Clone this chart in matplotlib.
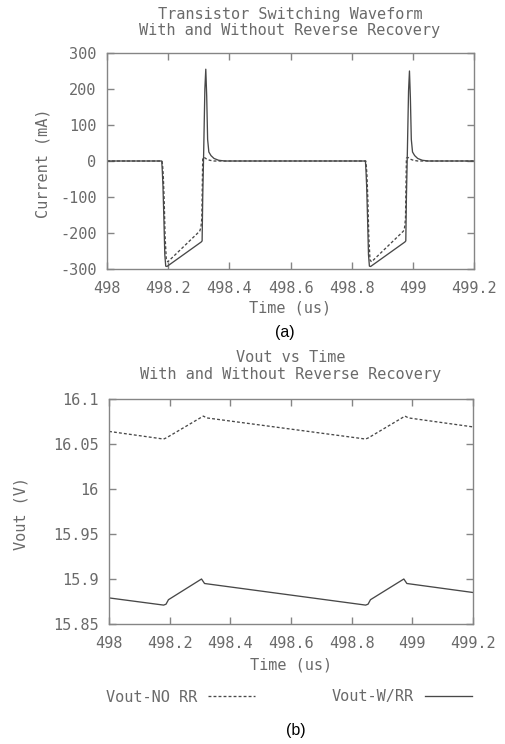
import matplotlib
matplotlib.use("Agg")
import matplotlib.pyplot as plt

plt.rcParams["axes.unicode_minus"] = False

# ---------------- data ----------------
# (a) transistor current, mA
t_cur_rr = [498.000, 498.179, 498.181, 498.183, 498.186, 498.189, 498.192, 498.196,
            498.308, 498.311, 498.313, 498.316, 498.320, 498.323, 498.326, 498.329,
            498.333, 498.340, 498.350, 498.365, 498.385,
            498.845, 498.847, 498.849, 498.852, 498.855, 498.858, 498.862,
            498.974, 498.977, 498.979, 498.982, 498.986, 498.989, 498.992, 498.995,
            498.999, 499.006, 499.016, 499.031, 499.051, 499.200]
i_rr = [0, 0, -30, -70, -160, -260, -292, -293,
        -225, -222, -100, 20, 200, 255, 180, 60,
        25, 15, 7, 2, 0,
        0, -30, -70, -160, -260, -292, -293,
        -225, -222, -100, 20, 195, 250, 175, 60,
        25, 15, 7, 2, 0, 0]

t_cur_norr = [498.000, 498.180, 498.182, 498.184, 498.187, 498.190, 498.194, 498.199,
              498.303, 498.307, 498.310, 498.313, 498.318, 498.326, 498.336, 498.350,
              498.846, 498.848, 498.850, 498.853, 498.856, 498.860, 498.865,
              498.969, 498.973, 498.976, 498.979, 498.984, 498.992, 499.002, 499.016,
              499.200]
i_norr = [0, 0, -15, -40, -110, -210, -275, -280,
          -195, -185, -160, 8, 10, 5, 2, 0,
          0, -15, -40, -110, -210, -275, -280,
          -195, -185, -160, 8, 10, 5, 2, 0,
          0]

# (b) output voltage, V
t_v_rr = [498.000, 498.180, 498.188, 498.196, 498.305, 498.315,
          498.846, 498.854, 498.862, 498.972, 498.982, 499.200]
v_rr = [15.879, 15.871, 15.872, 15.877, 15.900, 15.895,
        15.871, 15.872, 15.877, 15.900, 15.895, 15.885]

t_v_norr = [498.000, 498.180, 498.190, 498.311, 498.322,
            498.846, 498.856, 498.976, 498.987, 499.200]
v_norr = [16.064, 16.0555, 16.057, 16.081, 16.079,
          16.0555, 16.057, 16.081, 16.079, 16.069]

x_ticks = [498, 498.2, 498.4, 498.6, 498.8, 499, 499.2]
x_ticklabels = ["498", "498.2", "498.4", "498.6", "498.8", "499", "499.2"]
cur_ticks = [-300, -200, -100, 0, 100, 200, 300]
v_ticks = [15.85, 15.9, 15.95, 16.0, 16.05, 16.1]
v_ticklabels = ["15.85", "15.9", "15.95", "16", "16.05", "16.1"]

# ---------------- style ----------------
W, H = 505, 744
TXT = "#6a6a6a"
SPINE = "#858585"
LINE = "#484848"
MONO = "DejaVu Sans Mono"
FS = 11
DASH = (0, (2.2, 1.6))

fig = plt.figure(figsize=(W / 100, H / 100), dpi=100)


def fx(px):
    return px / W


def fy(py):
    return 1 - py / H


def style_axes(ax):
    for s in ax.spines.values():
        s.set_color(SPINE)
        s.set_linewidth(1.0)
    ax.tick_params(direction="in", length=5, width=1, color=SPINE,
                   labelcolor=TXT, labelsize=FS, top=True, right=True)
    ax.tick_params(axis="y", pad=7.5)
    ax.tick_params(axis="x", pad=8.5)
    for lab in ax.get_xticklabels() + ax.get_yticklabels():
        lab.set_family(MONO)


# ---- (a) ----
ax1 = fig.add_axes([fx(107), fy(269), fx(474) - fx(107), fy(53) - fy(269)])
ax1.plot(t_cur_norr, i_norr, color=LINE, lw=0.95, linestyle=DASH)
ax1.plot(t_cur_rr, i_rr, color=LINE, lw=0.95)
ax1.set_xlim(498, 499.2)
ax1.set_ylim(-300, 300)
ax1.set_xticks(x_ticks)
ax1.set_xticklabels(x_ticklabels)
ax1.set_yticks(cur_ticks)
ax1.set_yticklabels([str(v) for v in cur_ticks])
style_axes(ax1)

fig.text(fx(290), fy(15), "Transistor Switching Waveform", ha="center", va="center",
         family=MONO, fontsize=FS, color=TXT)
fig.text(fx(290), fy(31), "With and Without Reverse Recovery", ha="center", va="center",
         family=MONO, fontsize=FS, color=TXT)
fig.text(fx(43), fy(163), "Current (mA)", rotation=90, ha="center", va="center",
         family=MONO, fontsize=FS, color=TXT)
fig.text(fx(290), fy(308), "Time (us)", ha="center", va="center",
         family=MONO, fontsize=FS, color=TXT)
fig.text(fx(285), fy(333), "(a)", ha="center", va="center",
         family="Liberation Sans", fontsize=11.5, color="black")

# ---- (b) ----
ax2 = fig.add_axes([fx(109), fy(624), fx(473) - fx(109), fy(399) - fy(624)])
ax2.plot(t_v_norr, v_norr, color=LINE, lw=0.95, linestyle=DASH, label="Vout-NO RR")
ax2.plot(t_v_rr, v_rr, color=LINE, lw=0.95, label="Vout-W/RR")
ax2.set_xlim(498, 499.2)
ax2.set_ylim(15.85, 16.1)
ax2.set_xticks(x_ticks)
ax2.set_xticklabels(x_ticklabels)
ax2.set_yticks(v_ticks)
ax2.set_yticklabels(v_ticklabels)
style_axes(ax2)

fig.text(fx(291), fy(358), "Vout vs Time", ha="center", va="center",
         family=MONO, fontsize=FS, color=TXT)
fig.text(fx(291), fy(374), "With and Without Reverse Recovery", ha="center", va="center",
         family=MONO, fontsize=FS, color=TXT)
fig.text(fx(21), fy(513), "Vout (V)", rotation=90, ha="center", va="center",
         family=MONO, fontsize=FS, color=TXT)
fig.text(fx(291), fy(665), "Time (us)", ha="center", va="center",
         family=MONO, fontsize=FS, color=TXT)

leg = ax2.legend(loc="center", bbox_to_anchor=(fx(289), fy(697)),
                 bbox_transform=fig.transFigure, ncol=2, frameon=False,
                 markerfirst=False, handlelength=3.1, handletextpad=0.7,
                 columnspacing=5.0, prop={"family": MONO, "size": FS})
for txt in leg.get_texts():
    txt.set_color(TXT)

fig.text(fx(296), fy(731), "(b)", ha="center", va="center",
         family="Liberation Sans", fontsize=11.5, color="black")

fig.savefig("out.png", dpi=100, facecolor="white")
